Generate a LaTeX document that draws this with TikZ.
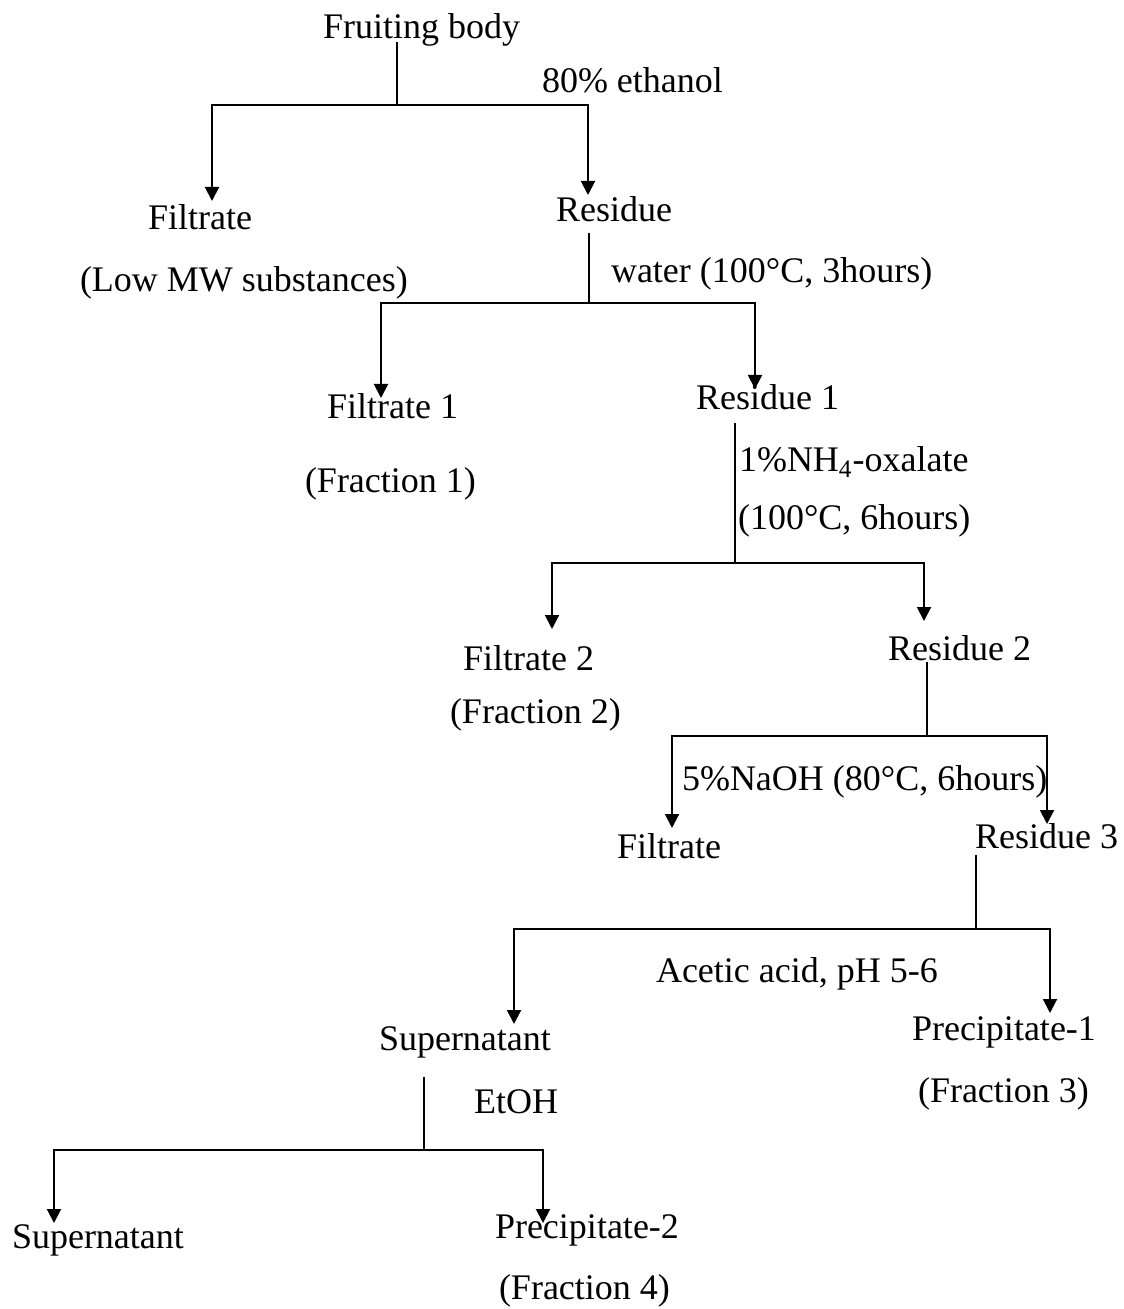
\documentclass[tikz,border=0pt]{standalone}
\usepackage{fontspec}
\setmainfont{Liberation Serif}
\usetikzlibrary{arrows.meta}

\begin{document}
\begin{tikzpicture}[x=0.5pt,y=-0.5pt,line width=1pt,
  txt/.style={anchor=base west,inner sep=0pt,font=\fontsize{18}{21}\selectfont},
  arr/.style={-{Triangle[width=7pt,length=7pt]}}]
\useasboundingbox (0,0) rectangle (1123,1309);

% Text Node
\node[txt] (fruit) at (322,39) {Fruiting body};
\node[txt] (ethanol) at (541,93) {80\% ethanol};
\node[txt] (filtA) at (147,230) {Filtrate};
\node[txt] (resA) at (555,222) {Residue};
\node[txt] (lowmw) at (79,292) {(Low MW substances)};
\node[txt] (water) at (610,283) {water (100°C, 3hours)};
% Text Node
\node[txt] (filt1) at (326,419) {Filtrate 1};
\node[txt] (res1) at (695,410) {Residue 1};
\node[txt] (frac1) at (304,493) {(Fraction 1)};
\node[txt] (oxal) at (738,472) {1\%NH\textsubscript{4}-oxalate};
\node[txt] (oxcond) at (737,530) {(100°C, 6hours)};
% Text Node
\node[txt] (filt2) at (462,670) {Filtrate 2};
\node[txt] (frac2) at (449,723) {(Fraction 2)};
\node[txt] (res2) at (887,660) {Residue 2};
\node[txt] (naoh) at (681,790) {5\%NaOH (80°C, 6hours)};
\node[txt] (filt3) at (616,858) {Filtrate};
\node[txt] (res3) at (974,848) {Residue 3};
% Text Node
\node[txt] (acetic) at (655,982) {Acetic acid, pH 5-6};
\node[txt] (super1) at (378,1050) {Supernatant};
\node[txt] (prec1) at (911,1040) {Precipitate-1};
\node[txt] (frac3) at (917,1102) {(Fraction 3)};
\node[txt] (etoh) at (473,1113) {EtOH};
\node[txt] (super2) at (11,1248) {Supernatant};
\node[txt] (prec2) at (494,1238) {Precipitate-2};
\node[txt] (frac4) at (498,1299) {(Fraction 4)};

%Straight Lines
\coordinate (s0) at (397,42);   \coordinate (j0) at (397,105);
\coordinate (t0a) at (212,201); \coordinate (t0b) at (588,195);
\draw (s0) -- (j0);
\draw[arr] (j0) -| (t0a);
\draw[arr] (j0) -| (t0b);
%Straight Lines
\coordinate (s1) at (589,233);  \coordinate (j1) at (589,303);
\coordinate (t1a) at (381,398); \coordinate (t1b) at (755,389);
\draw (s1) -- (j1);
\draw[arr] (j1) -| (t1a);
\draw[arr] (j1) -| (t1b);
%Straight Lines
\coordinate (s2) at (735,423);  \coordinate (j2) at (735,563);
\coordinate (t2a) at (552,629); \coordinate (t2b) at (924,621);
\draw (s2) -- (j2);
\draw[arr] (j2) -| (t2a);
\draw[arr] (j2) -| (t2b);
%Straight Lines
\coordinate (s3) at (927,662);  \coordinate (j3) at (927,736);
\coordinate (t3a) at (672,828); \coordinate (t3b) at (1047,824);
\draw (s3) -- (j3);
\draw[arr] (j3) -| (t3a);
\draw[arr] (j3) -| (t3b);
%Straight Lines
\coordinate (s4) at (976,855);  \coordinate (j4) at (976,929);
\coordinate (t4a) at (514,1024); \coordinate (t4b) at (1050,1013);
\draw (s4) -- (j4);
\draw[arr] (j4) -| (t4a);
\draw[arr] (j4) -| (t4b);
%Straight Lines
\coordinate (s5) at (424,1077); \coordinate (j5) at (424,1150);
\coordinate (t5a) at (54,1223); \coordinate (t5b) at (543,1223);
\draw (s5) -- (j5);
\draw[arr] (j5) -| (t5a);
\draw[arr] (j5) -| (t5b);
\end{tikzpicture}
\end{document}
